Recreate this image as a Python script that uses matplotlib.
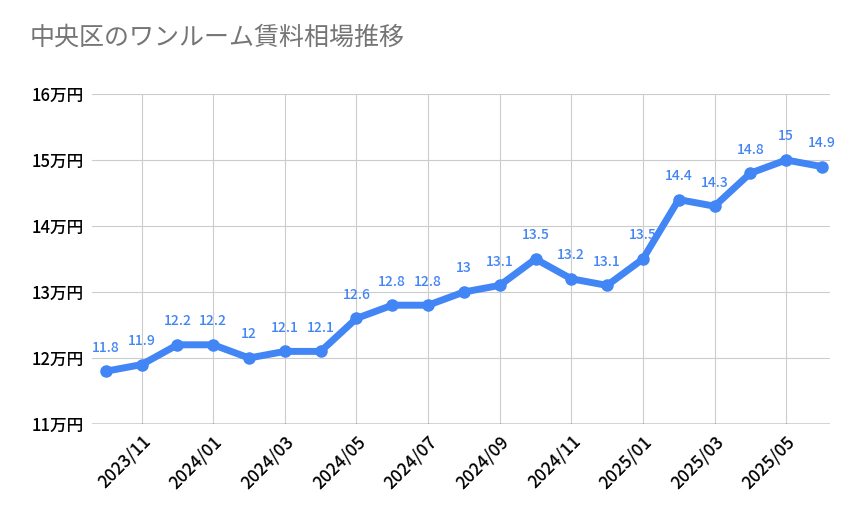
import matplotlib
matplotlib.use("Agg")
import matplotlib.pyplot as plt

plt.rcParams["font.family"] = "Noto Sans CJK JP"

months = ["2023/10","2023/11","2023/12","2024/01","2024/02","2024/03","2024/04","2024/05","2024/06",
          "2024/07","2024/08","2024/09","2024/10","2024/11","2024/12","2025/01","2025/02","2025/03",
          "2025/04","2025/05","2025/06"]
rent = [11.8,11.9,12.2,12.2,12.0,12.1,12.1,12.6,12.8,12.8,13,13.1,13.5,13.2,13.1,13.5,14.4,14.3,14.8,15,14.9]
yticks = [11,12,13,14,15,16]
ylabels = [f"{v}万円" for v in yticks]

fig = plt.figure(figsize=(8.59,5.31), dpi=100)
ax = fig.add_axes([0.107,0.2015,0.859,0.6215])
x = list(range(len(months)))
blue = "#4285f4"
ax.plot(x, rent, color=blue, lw=5, marker="o", ms=8, solid_capstyle="round", zorder=3)
for xi, v in zip(x, rent):
    ax.annotate(f"{v:g}", (xi, v), xytext=(0,12), textcoords="offset points",
                ha="center", va="bottom", color=blue, fontsize=10, fontweight="medium")
ax.set_xlim(-0.39, 20.22)
ax.set_ylim(11,16)
ax.set_yticks(yticks)
ax.set_yticklabels(ylabels, fontsize=12, fontweight="medium")
tx = x[1::2]
ax.set_xticks(tx)
ax.set_xticklabels([months[i] for i in tx], rotation=45, ha="right", rotation_mode="anchor",
                   fontsize=12.5, fontweight="medium")
ax.grid(True, color="#cccccc", lw=0.8)
for s in ax.spines.values():
    s.set_visible(False)
ax.axhline(11, color="#333333", lw=1)
ax.tick_params(length=0, pad=6)
fig.text(0.035, 0.915, "中央区のワンルーム賃料相場推移", fontsize=18, color="#757575")
fig.savefig("out.png")
